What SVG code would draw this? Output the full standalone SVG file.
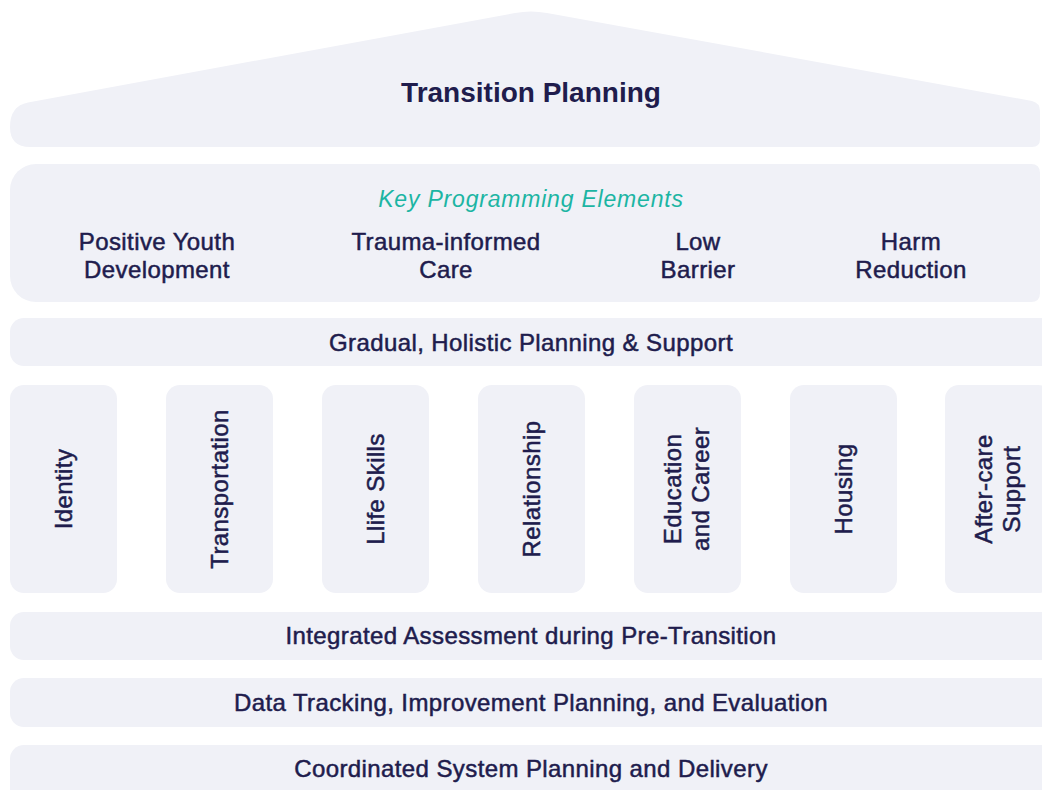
<svg xmlns="http://www.w3.org/2000/svg" width="1042" height="790" viewBox="0 0 1042 790">
<style>
.bg{fill:#f0f1f7}
.t{font-family:"Liberation Sans",Arial,sans-serif;font-size:24px;fill:#201c4d;stroke:#201c4d;stroke-width:0.5;letter-spacing:0.4px;text-anchor:middle}
.title{font-family:"Liberation Sans",Arial,sans-serif;font-size:28px;font-weight:bold;fill:#201c4d;text-anchor:middle}
.sub{font-family:"Liberation Sans",Arial,sans-serif;font-size:23px;font-style:italic;fill:#1cb5a3;letter-spacing:0.8px;text-anchor:middle}
</style>
<rect width="1042" height="790" fill="#ffffff"/>
<g id="roof">
<path class="bg" d="M 30 147 Q 10 147 10 127 Q 10 106 28 102.5 L 515 13 Q 531 10 547 13 L 1032 101 Q 1040 103 1040 111 L 1040 139 Q 1040 147 1032 147 Z"/>
<text class="title" x="531" y="102">Transition Planning</text>
</g>
<g id="key-elements">
<path class="bg" d="M 36 164 L 1031 164 Q 1040 164 1040 173 L 1040 293 Q 1040 302 1031 302 L 36 302 A 26 26 0 0 1 10 276 L 10 190 A 26 26 0 0 1 36 164 Z"/>
<text class="sub" x="531" y="207">Key Programming Elements</text>
<text class="t" x="157" y="250">Positive Youth</text>
<text class="t" x="157" y="278">Development</text>
<text class="t" x="446" y="250">Trauma-informed</text>
<text class="t" x="446" y="278">Care</text>
<text class="t" x="698" y="250">Low</text>
<text class="t" x="698" y="278">Barrier</text>
<text class="t" x="911" y="250">Harm</text>
<text class="t" x="911" y="278">Reduction</text>
</g>
<g id="gradual">
<rect class="bg" x="10" y="318" width="1050" height="48" rx="14"/>
<text class="t" x="531" y="351">Gradual, Holistic Planning &amp; Support</text>
</g>
<g id="pillar-identity">
<rect class="bg" x="10" y="385" width="107" height="208" rx="14"/>
<text class="t" transform="translate(71.5 489) rotate(-90)">Identity</text>
</g>
<g id="pillar-transportation">
<rect class="bg" x="166" y="385" width="107" height="208" rx="14"/>
<text class="t" transform="translate(227.5 489) rotate(-90)">Transportation</text>
</g>
<g id="pillar-life-skills">
<rect class="bg" x="322" y="385" width="107" height="208" rx="14"/>
<text class="t" transform="translate(383.5 489) rotate(-90)">Llife Skills</text>
</g>
<g id="pillar-relationship">
<rect class="bg" x="478" y="385" width="107" height="208" rx="14"/>
<text class="t" transform="translate(539.5 489) rotate(-90)">Relationship</text>
</g>
<g id="pillar-education">
<rect class="bg" x="634" y="385" width="107" height="208" rx="14"/>
<text class="t" transform="translate(680.5 489) rotate(-90)">Education</text>
<text class="t" transform="translate(708.5 489) rotate(-90)">and Career</text>
</g>
<g id="pillar-housing">
<rect class="bg" x="790" y="385" width="107" height="208" rx="14"/>
<text class="t" transform="translate(851.5 489) rotate(-90)">Housing</text>
</g>
<g id="pillar-aftercare">
<rect class="bg" x="945" y="385" width="107" height="208" rx="14"/>
<text class="t" transform="translate(991.5 489) rotate(-90)">After-care</text>
<text class="t" transform="translate(1019.5 489) rotate(-90)">Support</text>
</g>
<g id="integrated">
<rect class="bg" x="10" y="612" width="1050" height="48" rx="14"/>
<text class="t" x="531" y="644">Integrated Assessment during Pre-Transition</text>
</g>
<g id="data">
<rect class="bg" x="10" y="678" width="1050" height="49" rx="14"/>
<text class="t" x="531" y="711">Data Tracking, Improvement Planning, and Evaluation</text>
</g>
<g id="coordinated">
<rect class="bg" x="10" y="745" width="1050" height="60" rx="14"/>
<text class="t" x="531" y="777">Coordinated System Planning and Delivery</text>
</g>
<g id="connectors"/>
</svg>
